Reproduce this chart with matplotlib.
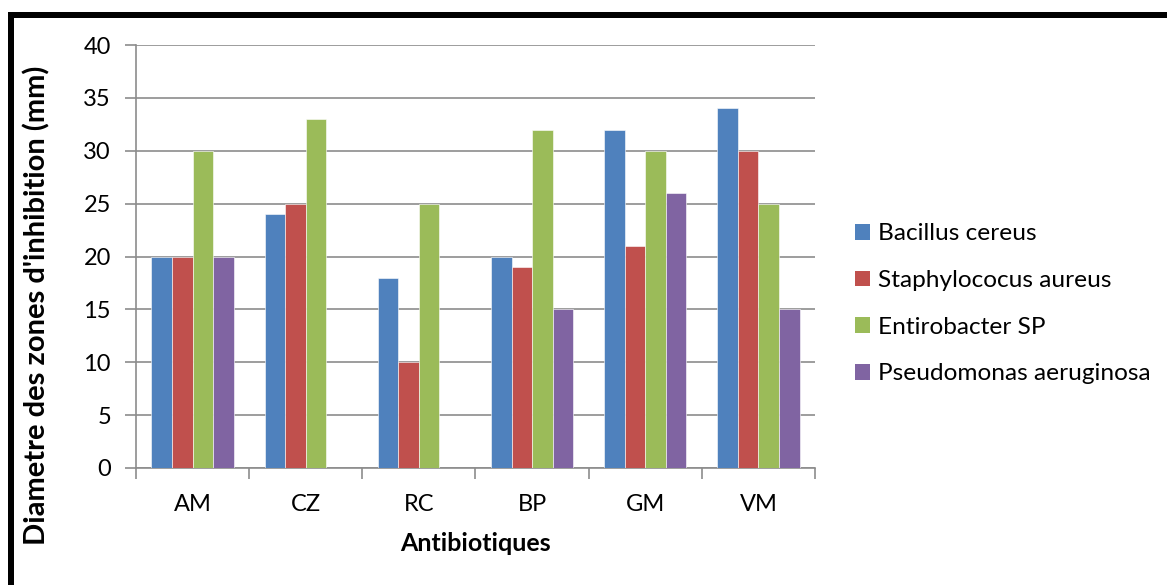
import matplotlib
matplotlib.use("Agg")
import matplotlib.pyplot as plt
from matplotlib.lines import Line2D
from matplotlib.patches import Patch
import numpy as np

categories = ["AM", "CZ", "RC", "BP", "GM", "VM"]
series_names = ["Bacillus cereus", "Staphylococus aureus", "Entirobacter SP", "Pseudomonas aeruginosa"]
bacillus = [20, 24, 18, 20, 32, 34]
staph = [20, 25, 10, 19, 21, 30]
entiro = [30, 33, 25, 32, 30, 25]
pseudo = [20, 0, 0, 15, 26, 15]
colors = ["#4F81BD", "#C0504D", "#9BBB59", "#8064A2"]
y_ticks = [0, 5, 10, 15, 20, 25, 30, 35, 40]

plt.rcParams['font.family'] = ['Lato', 'DejaVu Sans']

W, H = 1167, 585
fig = plt.figure(figsize=(W / 100, H / 100), dpi=100)
ax = fig.add_axes([136 / W, 1 - 468 / H, (815 - 136) / W, (468 - 45) / H])

series = [bacillus, staph, entiro, pseudo]
x = np.arange(len(categories))
bw = 1 / 5.5
for i, (vals, c) in enumerate(zip(series, colors)):
    ax.bar(x + (i - 1.5) * bw, vals, width=bw, color=c, edgecolor="white", linewidth=0.4, zorder=3)

ax.set_xlim(-0.5, len(categories) - 0.5)
ax.set_ylim(0, 40)
ax.set_yticks(y_ticks)
ax.set_yticklabels([str(v) for v in y_ticks], fontsize=17)
ax.yaxis.grid(True, color="#8C8C8C", linewidth=1.2, zorder=0)
ax.set_axisbelow(True)

ax.set_xticks(np.arange(-0.5, len(categories), 1.0))
ax.set_xticklabels([])
ax.set_xticks(x, minor=True)
ax.set_xticklabels(categories, minor=True, fontsize=17)
ax.tick_params(axis="x", which="major", length=8, color="#8C8C8C", width=1.2)
ax.tick_params(axis="x", which="minor", length=0, pad=19)
ax.tick_params(axis="y", length=8, color="#8C8C8C", width=1.2, pad=10)

for s in ["top", "right"]:
    ax.spines[s].set_visible(False)
for s in ["left", "bottom"]:
    ax.spines[s].set_color("#8C8C8C")
    ax.spines[s].set_linewidth(1.2)

ax.set_xlabel("Antibiotiques", fontsize=18, fontweight="bold", labelpad=12)
fig.text(37 / W, 1 - 305 / H, "Diametre des zones d'inhibition (mm)", rotation=90,
         ha="center", va="center", fontsize=21, fontweight="bold")

handles = [Patch(facecolor=c, edgecolor="none") for c in colors]
leg = fig.legend(handles, series_names, loc="center left", bbox_to_anchor=(833 / W, 1 - 304 / H),
                 frameon=False, fontsize=17.6, handlelength=0.6, handleheight=0.6,
                 handletextpad=0.35, labelspacing=1.05)

# outer frame (partially cropped)
lw = 6 * 72 / 100
fig.add_artist(Line2D([11 / W, 11 / W], [0, 1 - 15 / H], color="black", linewidth=lw,
                      transform=fig.transFigure, solid_capstyle="projecting"))
fig.add_artist(Line2D([11 / W, 1.0], [1 - 15 / H, 1 - 15 / H], color="black", linewidth=lw,
                      transform=fig.transFigure, solid_capstyle="projecting"))

fig.savefig("out.png", dpi=100, facecolor="white")
